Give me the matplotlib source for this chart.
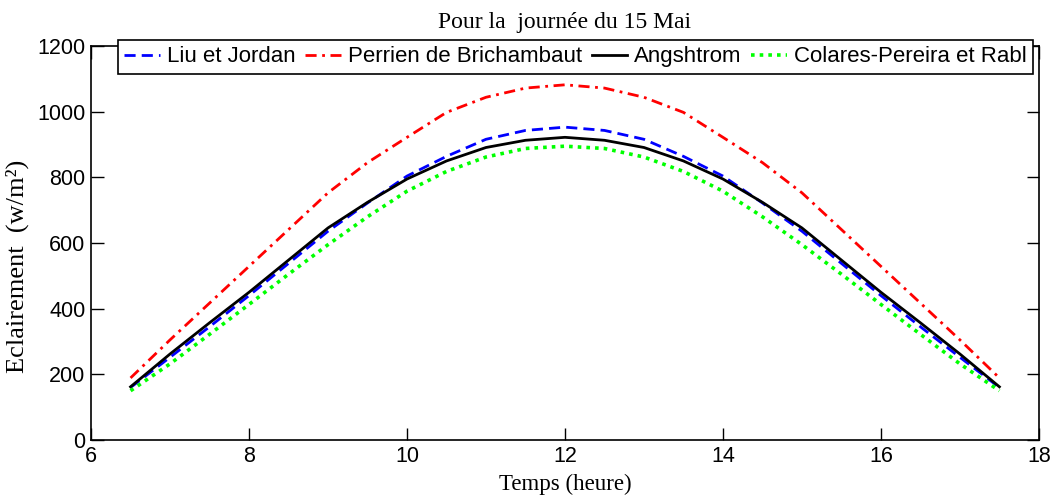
import matplotlib
matplotlib.use("Agg")
import matplotlib.pyplot as plt

hours = [6.5, 7.0, 7.5, 8.0, 8.5, 9.0, 9.5, 10.0, 10.5, 11.0, 11.5, 12.0,
         12.5, 13.0, 13.5, 14.0, 14.5, 15.0, 15.5, 16.0, 16.5, 17.0, 17.5]

liu_jordan = [160, 252, 345, 440, 538, 636, 722, 804, 864, 916, 943, 953,
              943, 916, 864, 804, 722, 636, 538, 440, 345, 252, 160]
perrien = [189, 305, 417, 529, 641, 753, 845, 922, 998, 1044, 1072, 1082,
           1072, 1044, 998, 922, 845, 753, 641, 529, 417, 305, 189]
angstrom = [162, 262, 357, 450, 548, 646, 724, 795, 850, 891, 913, 922,
            913, 891, 850, 795, 724, 646, 548, 450, 357, 262, 162]
colares = [150, 232, 322, 413, 505, 595, 680, 758, 818, 862, 888, 895,
           888, 862, 818, 758, 680, 595, 505, 413, 322, 232, 150]

labels = ["Liu et Jordan", "Perrien de Brichambaut", "Angshtrom",
          "Colares-Pereira et Rabl"]

fig = plt.figure(figsize=(10.59, 4.98), dpi=100)
ax = fig.add_axes([0.086, 0.1165, 0.895, 0.791])

sans = "Liberation Sans"
serif = "Liberation Serif"

ax.plot(hours, liu_jordan, color="#0000ff", linestyle=(0, (4, 2.2)), lw=2.0, label=labels[0])
ax.plot(hours, perrien, color="#ff0000", linestyle=(0, (4, 2, 1, 2)), lw=2.0, label=labels[1])
ax.plot(hours, angstrom, color="black", linestyle="-", lw=2.0, label=labels[2])
ax.plot(hours, colares, color="#00ff00", linestyle=(0, (1, 1.4)), lw=2.6, label=labels[3])

ax.set_xlim(6, 18)
ax.set_ylim(0, 1200)
ax.set_xticks([6, 8, 10, 12, 14, 16, 18])
ax.set_yticks([0, 200, 400, 600, 800, 1000, 1200])
ax.tick_params(direction="in", length=9, width=1, top=True, right=True,
               labelsize=15.5, pad=4)
for lab in ax.get_xticklabels() + ax.get_yticklabels():
    lab.set_family(sans)
for sp in ax.spines.values():
    sp.set_linewidth(1.2)

ax.set_title("Pour la  journée du 15 Mai", family=serif, fontsize=17, pad=13)
ax.set_xlabel("Temps (heure)", family=serif, fontsize=16.5, labelpad=5)
ax.set_ylabel("Eclairement  (w/m²)", family=serif, fontsize=19)
ax.yaxis.set_label_coords(-0.066, 0.44)

leg = ax.legend(loc="upper center", bbox_to_anchor=(0.511, 1.015), ncol=4,
                prop={"family": sans, "size": 16}, frameon=True, fancybox=False,
                edgecolor="black", framealpha=1, handlelength=1.6,
                handletextpad=0.3, columnspacing=0.45, borderpad=0.28,
                borderaxespad=0.0)
leg.get_frame().set_linewidth(1.2)

fig.savefig("out.png", dpi=100)
